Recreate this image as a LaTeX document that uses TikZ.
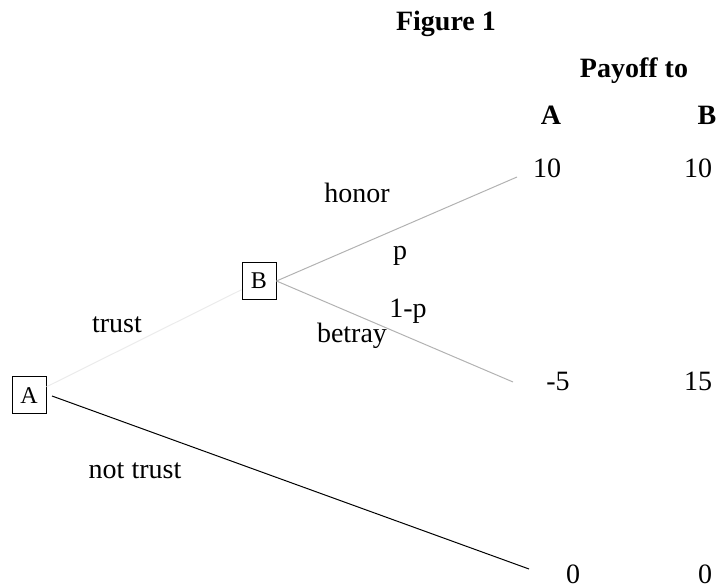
\documentclass[tikz,border=0pt]{standalone}
\usepackage{fontspec}
\setmainfont{Liberation Serif}
\begin{document}
\begin{tikzpicture}[x=0.5pt,y=-0.5pt,
    every node/.style={font=\fontsize{14}{16}\selectfont, anchor=base, inner sep=0pt},
    player/.style={draw, line width=0.5pt, anchor=center, font=\fontsize{12}{14}\selectfont,
      minimum width=17pt, minimum height=18.5pt},
    head/.style={font=\fontsize{14}{16}\selectfont\bfseries},
    branch/.style={line width=0.5pt, black!30}]
    \useasboundingbox (0,0) rectangle (718,588);
    % titles
    \node [head] (title) at (446,31) {Figure 1};
    \node [head] (payoff) at (634,78) {Payoff to};
    \node [head] (colA) at (551,125) {A};
    \node [head] (colB) at (707,125) {B};
    % decision nodes
    \node [player] (boxA) at (29,395.5) {A};
    \node [player] (boxB) at (259,281) {B};
    % payoffs
    \node (hA) at (547,178) {10};
    \node (hB) at (698,178) {10};
    \node (bA) at (558,391) {-5};
    \node (bB) at (698,391) {15};
    \node (nA) at (573,583) {0};
    \node (nB) at (705,583) {0};
    % branch ends
    \coordinate (honorEnd) at (517,177);
    \coordinate (betrayEnd) at (513,382);
    \coordinate (notStart) at (52,396);
    \coordinate (notEnd) at (529,569);
    % branches
    \draw [line width=0.5pt, black!8] (boxA) -- (boxB);
    \draw [branch] (boxB.east) -- (honorEnd);
    \draw [branch] (boxB.east) -- (betrayEnd);
    \draw [line width=0.5pt] (notStart) -- (notEnd);
    % labels
    \node (trust) at (117,333) {trust};
    \node (honor) at (357,203) {honor};
    \node (p) at (400,260) {p};
    \node (q) at (408,318) {1-p};
    \node (betray) at (352,343) {betray};
    \node (nottrust) at (135,479) {not trust};
\end{tikzpicture}
\end{document}
